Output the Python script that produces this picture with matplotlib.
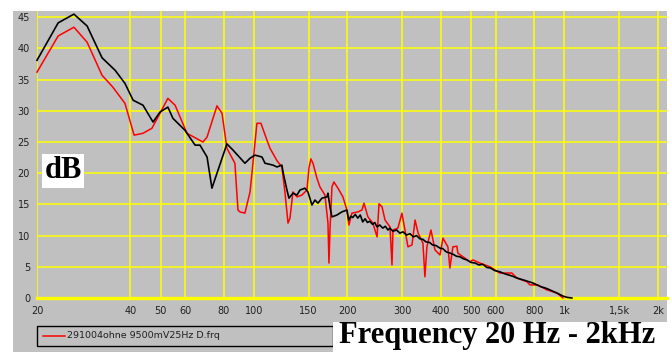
import matplotlib
matplotlib.use("Agg")
import matplotlib.pyplot as plt
from matplotlib.patches import Rectangle

# --- data (frequency in Hz, level in dB) -----------------------------------
black_freq = [20, 23.4, 26.3, 29.0, 32.4, 35.7, 38.4, 40.8, 43.9, 47.3, 49.8,
              52.8, 54.8, 59.9, 64.6, 67.0, 70.6, 73.2, 81.8, 85.6, 93.5,
              97.1, 100.7, 106.1, 108.5, 115.1, 118.6, 123, 124, 127.7,
              129.6, 133.5, 137.6, 140.6, 145.9, 149.2, 153.7, 157.2, 160.7,
              165.5, 171.8, 173.1, 175.7, 178.3, 185, 191.9, 199.2,
              202, 205, 208, 212, 216, 220, 224, 228, 232, 236, 241, 245,
              249, 254, 260, 265, 270, 274, 280, 288, 295, 302, 310, 318,
              326, 334, 342, 350, 358, 368, 376, 386, 397, 406, 416, 428,
              438, 449, 461, 472, 485, 500, 516, 530, 546, 562, 578, 596,
              620, 640, 660, 680, 703, 725, 748, 770, 792, 815, 840, 868,
              898, 925, 955, 990, 1020, 1057]
black_db = [38.1, 44.1, 45.5, 43.6, 38.5, 36.5, 34.4, 31.7, 30.9, 28.2, 29.8,
            30.6, 28.8, 26.9, 24.5, 24.5, 22.6, 17.6, 24.7, 23.7, 21.6,
            22.4, 22.9, 22.6, 21.6, 21.3, 21.0, 21.3, 20.2, 17.3,
            16.0, 16.8, 16.5, 17.3, 17.6, 17.0, 14.9, 15.7, 15.2,
            16.0, 16.2, 16.8, 14.6, 13.0, 13.3, 13.8, 14.1,
            12.5, 13.1, 12.9, 13.4, 12.8, 13.3, 12.2, 12.7, 12.1, 12.3, 11.8,
            12.1, 11.4, 11.7, 11.2, 11.5, 10.9, 11.2, 10.7, 10.9, 10.4, 10.6,
            10.1, 10.3, 9.8, 10.0, 9.5, 9.4, 9.0, 8.9, 8.5, 8.4, 8.0, 7.9,
            7.4, 7.2, 7.0, 6.7, 6.6, 6.3, 6.1, 5.7, 5.6, 5.3, 5.4, 4.9, 4.8,
            4.4, 4.2, 3.9, 3.7, 3.5, 3.2, 3.0, 2.8, 2.6, 2.4, 2.1, 1.8, 1.6,
            1.3, 1.0, 0.7, 0.3, 0.1, 0.0]

red_freq = [20, 23.4, 26.3, 29.0, 32.4, 35.1, 38.4, 41.1, 43.9, 46.9, 49.8,
            52.8, 55.7, 60.8, 68.5, 70.6, 76.0, 78.9, 81.8, 86.8, 88.8, 90.1,
            93.5, 97.1, 98.5, 102.2, 105.3, 110.1, 112.6, 118.6, 123, 125.8,
            128.7, 130.6, 133.5, 137.6, 142.7, 148.1, 150.3, 152.5, 154.9,
            159.5, 163.1, 169.3, 173.1, 174.4, 175.7, 178.3, 180.9, 186.4,
            193.4, 199.2, 202.2, 206.8, 216.2, 222.7, 226.1, 232.8, 241.6,
            249.1, 252.8, 258.5, 264.3, 274.2, 278.3, 280.4, 290.8, 299.6,
            306.4, 313.3, 322.8, 330.3, 337.8, 350.1, 355.3, 360.6, 371.6,
            382.9, 397.3, 406.2, 421.3, 427.6, 437.2, 450.3, 453.6, 471.5,
            496, 507.3, 534.2, 575.5, 619.6, 677.2, 702.8, 757.2, 774.2,
            821.4, 878.1, 945.8, 988.6]
red_db = [36.2, 42.0, 43.4, 41.0, 35.7, 33.8, 31.2, 26.1, 26.4, 27.2, 29.6,
          32.0, 30.9, 26.4, 25.0, 25.8, 30.8, 29.6, 24.0, 21.6, 14.1, 13.8,
          13.6, 17.0, 20.0, 28.0, 28.0, 25.3, 24.0, 22.0, 21.0, 17.0,
          12.0, 12.8, 17.0, 16.2, 16.5, 17.3, 20.8, 22.3, 21.6,
          19.2, 17.8, 16.5, 12.0, 5.6, 10.9, 17.8, 18.6, 17.6,
          16.2, 14.1, 11.7, 13.6, 13.8, 14.1, 15.2, 13.0, 12.0,
          9.8, 15.1, 14.6, 12.5, 11.4, 5.3, 10.9, 11.2, 13.6,
          10.9, 8.2, 8.5, 12.5, 10.4, 8.8, 3.4, 8.2, 10.9,
          7.7, 6.9, 9.6, 8.2, 4.8, 8.2, 8.3, 7.2, 6.6,
          5.8, 6.1, 5.6, 5.0, 4.0, 4.0, 3.2, 2.6, 2.1,
          2.1, 1.3, 0.8, 0.0]

x_ticks = [20, 40, 50, 60, 80, 100, 150, 200, 300, 400, 500, 600, 800,
           1000, 1500, 2000]
x_labels = ["20", "40", "50", "60", "80", "100", "150", "200", "300", "400",
            "500", "600", "800", "1k", "1,5k", "2k"]
y_ticks = [0, 5, 10, 15, 20, 25, 30, 35, 40, 45]
legend_label = "291004ohne 9500mV25Hz D.frq"

GREY = "#c0c0c0"
YELLOW = "#ffff00"
W, H = 672, 352

fig = plt.figure(figsize=(W / 100, H / 100), dpi=100, facecolor="white")
# grey window panel behind everything
fig.patches.append(Rectangle((13 / W, 0), (667 - 13) / W, (H - 11) / H,
                             transform=fig.transFigure, facecolor=GREY,
                             edgecolor="none", zorder=-5))

ax = fig.add_axes([37 / W, (H - 298) / H, (667 - 37) / W, (298 - 11) / H])
ax.set_zorder(1)
ax.set_facecolor("none")
ax.set_xscale("log")
ax.set_xlim(20, 2140)
ax.set_ylim(0, 46)
for s in ax.spines.values():
    s.set_visible(False)

ax.set_xticks(x_ticks, labels=x_labels)
ax.set_xticks([], minor=True)
ax.set_yticks(y_ticks)
ax.tick_params(length=0, labelsize=7, colors="#202020", pad=6)
ax.tick_params(axis="y", pad=5)
ax.grid(True, color=YELLOW, linewidth=1.1)
ax.set_axisbelow(True)
ax.axhline(0, color=YELLOW, linewidth=2.4, zorder=1, clip_on=False)

ax.plot(red_freq, red_db, color="#ff0000", linewidth=1.1, zorder=3,
        clip_on=False)
ax.plot(black_freq, black_db, color="#000000", linewidth=1.2, zorder=4,
        clip_on=False)

serif = ["Liberation Serif", "DejaVu Serif"]
ax.text(63 / W, 1 - 171 / H, "dB", transform=fig.transFigure, family=serif,
        weight="bold", fontsize=22, ha="center", va="center", zorder=6,
        bbox=dict(facecolor="white", edgecolor="none", pad=2))

# legend strip at the bottom
fig.patches.append(Rectangle((37 / W, 1 - 346 / H), (333 - 37) / W, 20 / H,
                             transform=fig.transFigure, facecolor=GREY,
                             edgecolor="black", linewidth=1, zorder=2))
fig.lines.append(plt.Line2D([43 / W, 65 / W], [1 - 336 / H, 1 - 336 / H],
                            transform=fig.transFigure, color="#ff0000",
                            linewidth=1.1, zorder=3))
fig.text(67 / W, 1 - 336 / H, legend_label, fontsize=6.8, color="#202020",
         va="center", ha="left", zorder=3)

fig.patches.append(Rectangle((333 / W, 0), (668 - 333) / W, 30 / H,
                             transform=fig.transFigure, facecolor="white",
                             edgecolor="none", zorder=4))
fig.text(497 / W, 1 - 335 / H, "Frequency 20 Hz - 2kHz", family=serif,
         weight="bold", fontsize=22, ha="center", va="center", zorder=5)

fig.savefig("out.png", dpi=100, facecolor="white")
